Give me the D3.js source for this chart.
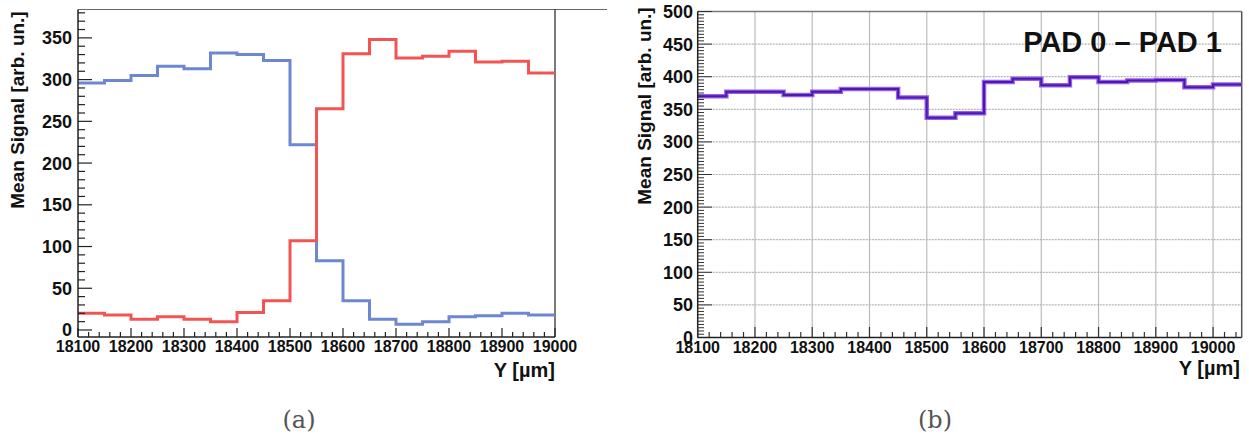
<!DOCTYPE html>
<html><head><meta charset="utf-8">
<script src="https://cdn.jsdelivr.net/npm/d3@7/dist/d3.min.js"></script>
<style>
body{margin:0;background:#fff;}
svg text{font-family:"Liberation Sans",Arial,sans-serif;font-weight:bold;fill:#111;}
</style></head>
<body><svg id="c" width="1249" height="444"></svg>
<script>
// ---- data ----
const binStartsA = [18100,18150,18200,18250,18300,18350,18400,18450,18500,18550,18600,18650,18700,18750,18800,18850,18900,18950];
const binEndA = 19000;
const pad0 = [296,299,305,316,313,332,330,323,222,83,35,13,7,10,16,17,20,18];
const pad1 = [20,18,13,16,13,10,21,35,107,265,331,348,326,328,334,321,322,308];

const binStartsB = [18100,18150,18200,18250,18300,18350,18400,18450,18500,18550,18600,18650,18700,18750,18800,18850,18900,18950,19000];
const binEndB = 19050;
const padDiff = [370,377,377,372,377,381,381,368,337,344,392,397,387,399,392,394,395,384,388];

const xTicksA = [18100,18200,18300,18400,18500,18600,18700,18800,18900,19000];
const yTicksA = [0,50,100,150,200,250,300,350];
const xTicksB = [18100,18200,18300,18400,18500,18600,18700,18800,18900,19000];
const yTicksB = [0,50,100,150,200,250,300,350,400,450,500];

const svg = d3.select("#c");

function steps(starts, end, vals){
  const pts = starts.map((s,i)=>[s, vals[i]]);
  pts.push([end, vals[vals.length-1]]);
  return pts;
}

// ---------- Panel A ----------
{
  const x = d3.scaleLinear().domain([18100,19000]).range([78,555]);
  const y = d3.scaleLinear().domain([-8.4,384]).range([337,9.5]);
  const g = svg.append("g");
  g.append("line").attr("x1",78).attr("x2",607).attr("y1",9.5).attr("y2",9.5).attr("stroke","#666").attr("stroke-width",1);
  g.append("line").attr("x1",555).attr("x2",555).attr("y1",9.5).attr("y2",337).attr("stroke","#222").attr("stroke-width",1.2);

  const line = d3.line().x(d=>x(d[0])).y(d=>y(d[1])).curve(d3.curveStepAfter);
  g.append("path").attr("d",line(steps(binStartsA,binEndA,pad0))).attr("fill","none").attr("stroke","#6d88d0").attr("stroke-width",3);
  g.append("path").attr("d",line(steps(binStartsA,binEndA,pad1))).attr("fill","none").attr("stroke","#f25454").attr("stroke-width",3);

  const ymin = d3.range(0,381,10);
  g.selectAll(".ym").data(ymin).join("line")
    .attr("x1",78).attr("x2",d=>d%50===0?92:85).attr("y1",d=>y(d)).attr("y2",d=>y(d)).attr("stroke","#222").attr("stroke-width",1.2);
  g.append("line").attr("x1",78).attr("x2",78).attr("y1",9.5).attr("y2",337).attr("stroke","#222").attr("stroke-width",1.5);
  g.selectAll(".yl").data(yTicksA).join("text").attr("x",72).attr("y",d=>y(d)).attr("dy","0.36em")
    .attr("text-anchor","end").attr("font-size",18).text(d=>d);
  const xmin = d3.range(18100,19001,20);
  g.selectAll(".xm").data(xmin).join("line")
    .attr("x1",d=>x(d)).attr("x2",d=>x(d)).attr("y1",337).attr("y2",d=>(d-18100)%100===0?328:332).attr("stroke","#222").attr("stroke-width",1.2);
  g.append("line").attr("x1",78).attr("x2",555).attr("y1",337).attr("y2",337).attr("stroke","#222").attr("stroke-width",1.5);
  g.selectAll(".xl").data(xTicksA).join("text").attr("x",d=>x(d)).attr("y",352)
    .attr("text-anchor","middle").attr("font-size",16).text(d=>d);
  g.append("text").attr("x",555).attr("y",377).attr("text-anchor","end").attr("font-size",20).text("Y [\u00b5m]");
  g.append("text").attr("transform","translate(24,110) rotate(-90)").attr("text-anchor","middle").attr("font-size",19).text("Mean Signal [arb. un.]");
  svg.append("text").attr("x",299).attr("y",428).attr("text-anchor","middle")
    .style("font-family","'DejaVu Serif','Liberation Serif',serif").style("font-weight","normal").style("fill","#555")
    .attr("font-size",24).text("(a)");
}

// ---------- Panel B ----------
{
  const x = d3.scaleLinear().domain([18100,19050]).range([697.7,1241.7]);
  const y = d3.scaleLinear().domain([0,500]).range([337.5,11.5]);
  const g = svg.append("g");
  g.selectAll(".gv").data(xTicksB.slice(1)).join("line")
    .attr("x1",d=>x(d)).attr("x2",d=>x(d)).attr("y1",11.5).attr("y2",337.5).attr("stroke","#bcbcbc").attr("stroke-width",1.2);
  g.selectAll(".gh").data(yTicksB.slice(1,-1)).join("line")
    .attr("x1",697.7).attr("x2",1241.7).attr("y1",d=>y(d)).attr("y2",d=>y(d)).attr("stroke","#b4b4b4").attr("stroke-width",1.2).attr("stroke-dasharray","2,1");
  g.append("line").attr("x1",697.7).attr("x2",1241.7).attr("y1",11.5).attr("y2",11.5).attr("stroke","#777").attr("stroke-width",1.5);
  g.append("line").attr("x1",1241.7).attr("x2",1241.7).attr("y1",11.5).attr("y2",337.5).attr("stroke","#555").attr("stroke-width",1.5);

  const line = d3.line().x(d=>x(d[0])).y(d=>y(d[1])).curve(d3.curveStepAfter);
  g.append("path").attr("d",line(steps(binStartsB,binEndB,padDiff))).attr("fill","none").attr("stroke","#9a5cf0").attr("stroke-width",4.5);
  g.append("path").attr("d",line(steps(binStartsB,binEndB,padDiff))).attr("fill","none").attr("stroke","#4a1aa8").attr("stroke-width",2);

  const ymin = d3.range(0,501,5);
  g.selectAll(".ym").data(ymin).join("line")
    .attr("x1",697.7).attr("x2",d=>d%50===0?712:704).attr("y1",d=>y(d)).attr("y2",d=>y(d)).attr("stroke","#333").attr("stroke-width",1);
  g.append("line").attr("x1",697.7).attr("x2",697.7).attr("y1",11.5).attr("y2",337.5).attr("stroke","#222").attr("stroke-width",1.5);
  g.selectAll(".yl").data(yTicksB).join("text").attr("x",693).attr("y",d=>y(d)).attr("dy","0.36em")
    .attr("text-anchor","end").attr("font-size",18).text(d=>d);
  const xmin = d3.range(18100,19041,20);
  g.selectAll(".xm").data(xmin).join("line")
    .attr("x1",d=>x(d)).attr("x2",d=>x(d)).attr("y1",337.5).attr("y2",d=>(d-18100)%100===0?327:332).attr("stroke","#333").attr("stroke-width",1.2);
  g.append("line").attr("x1",697.7).attr("x2",1241.7).attr("y1",337.5).attr("y2",337.5).attr("stroke","#222").attr("stroke-width",1.5);
  g.selectAll(".xl").data(xTicksB).join("text").attr("x",d=>x(d)).attr("y",353)
    .attr("text-anchor","middle").attr("font-size",16).text(d=>d);
  g.append("text").attr("x",1240).attr("y",375).attr("text-anchor","end").attr("font-size",20).text("Y [\u00b5m]");
  g.append("text").attr("transform","translate(651,106) rotate(-90)").attr("text-anchor","middle").attr("font-size",19).text("Mean Signal [arb. un.]");
  g.append("text").attr("x",1222).attr("y",52).attr("text-anchor","end").attr("font-size",29).text("PAD 0 \u2013 PAD 1");
  svg.append("text").attr("x",935).attr("y",428).attr("text-anchor","middle")
    .style("font-family","'DejaVu Serif','Liberation Serif',serif").style("font-weight","normal").style("fill","#555")
    .attr("font-size",24).text("(b)");
}
</script></body></html>
